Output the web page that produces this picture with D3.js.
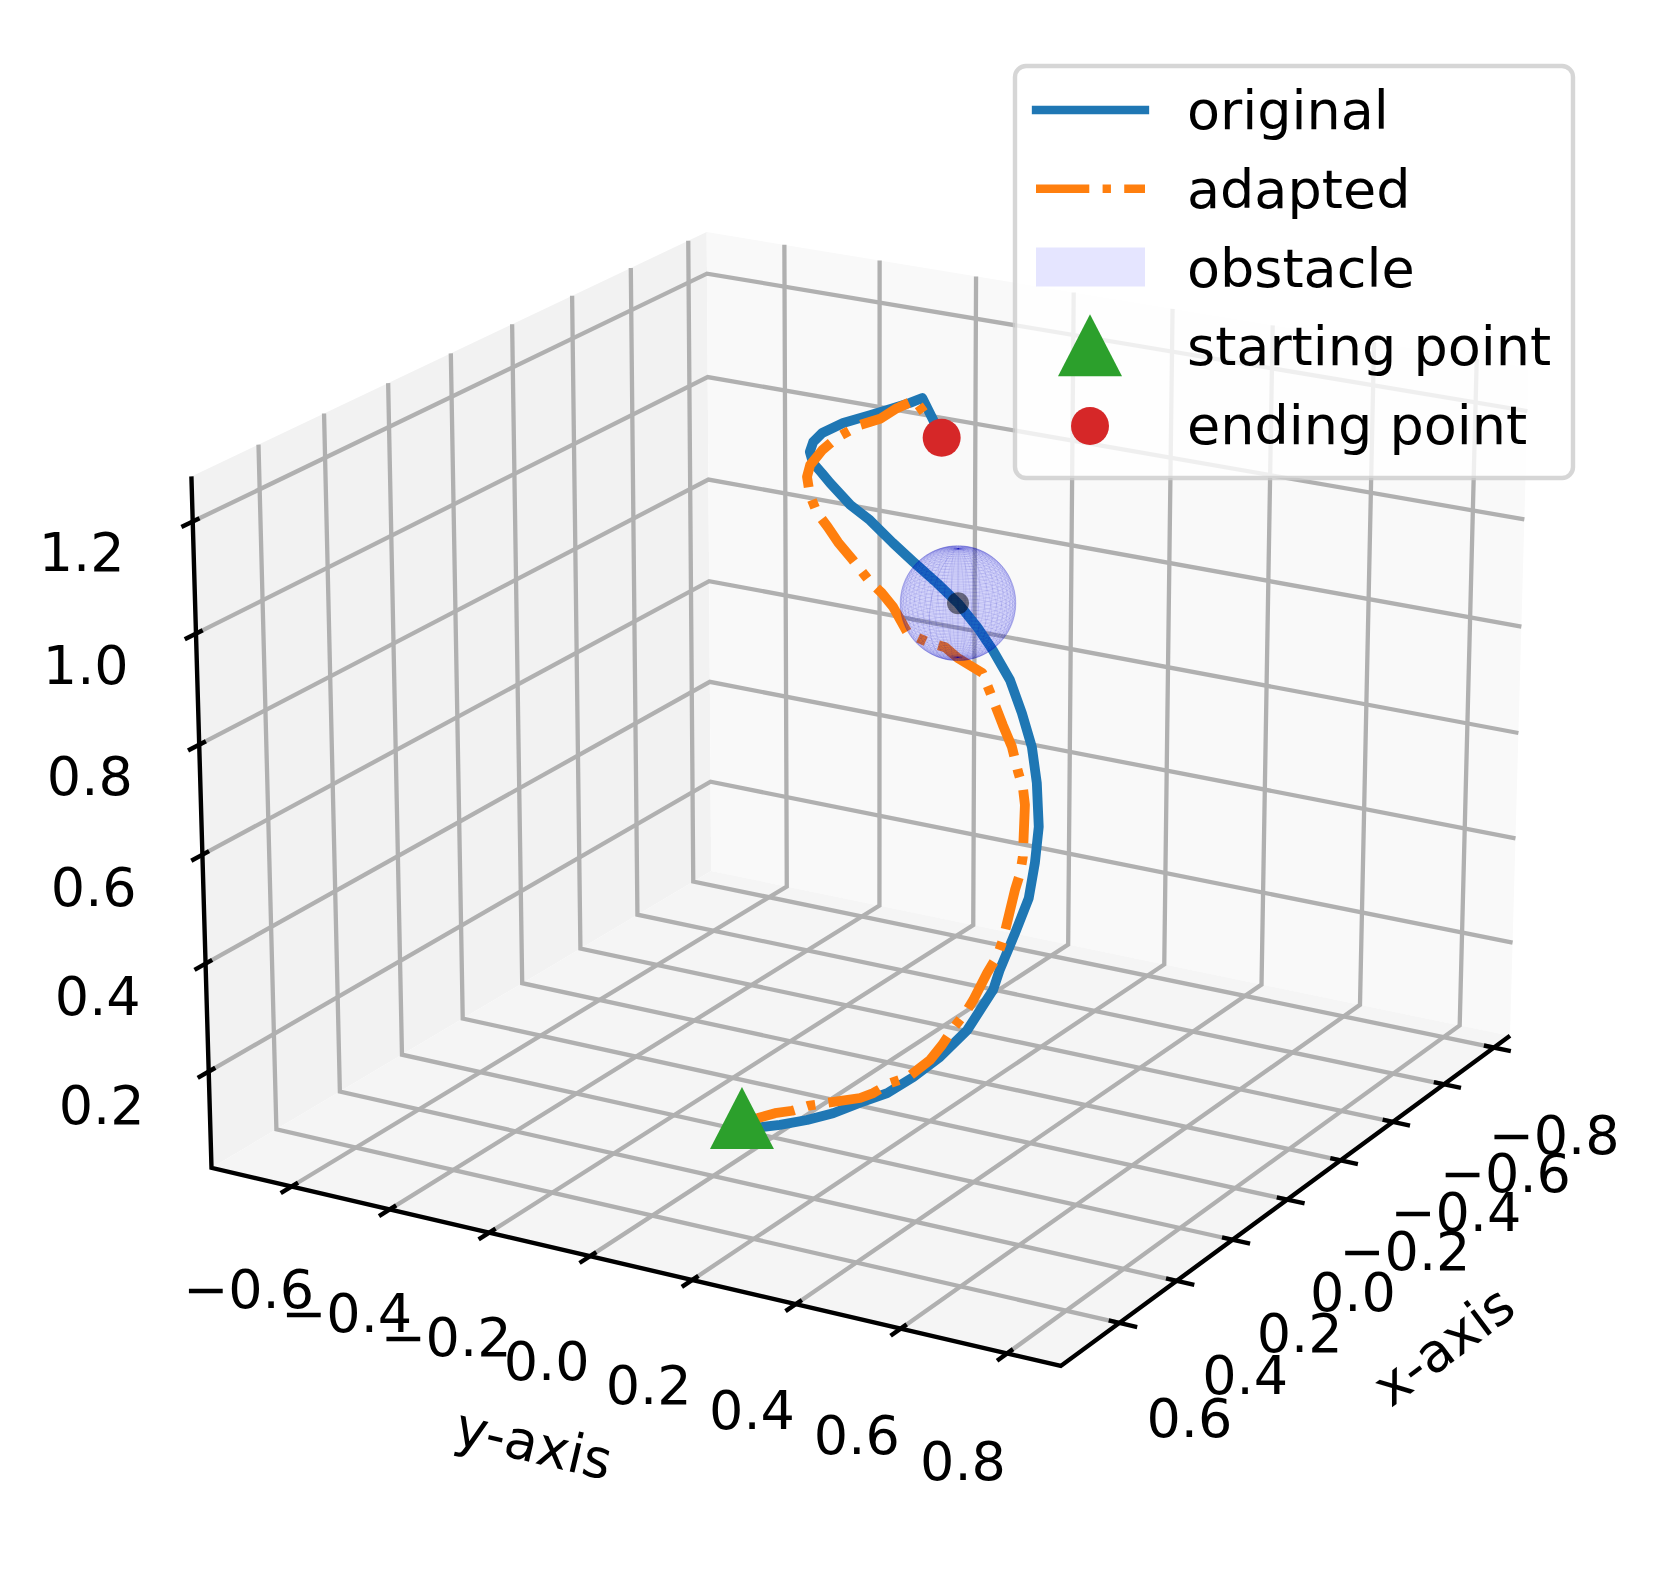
<!DOCTYPE html>
<html lang="en">
<head>
	<meta charset="UTF-8">
	<title>Trajectory</title>
	<script src="https://d3js.org/d3.v7.min.js"></script>
	<style>
		html, body { margin: 0; padding: 0; background: #fff; }
		text { font-family: "DejaVu Sans"; fill: #000; }
	</style>
</head>
<body>
	<svg id="svg"></svg>
	<script>
		var xTicks = [-0.8, -0.6, -0.4, -0.2, 0.0, 0.2, 0.4, 0.6];
		var yTicks = [-0.6, -0.4, -0.2, 0.0, 0.2, 0.4, 0.6, 0.8];
		var zTicks = [0.2, 0.4, 0.6, 0.8, 1.0, 1.2];
		var xLim = [-0.865, 0.80];
		var yLim = [-0.765, 0.90];
		var zLim = [0.02, 1.28];
		var legendLabels = ["original", "adapted", "obstacle", "starting point", "ending point"];

		var originalX = [0.267, 0.250, 0.232, 0.206, 0.180, 0.151, 0.123, 0.092, 0.059, 0.022, -0.021, -0.037, -0.069, -0.099, -0.122, -0.144,
			-0.165, -0.179, -0.188, -0.194, -0.195, -0.193, -0.189, -0.181, -0.171, -0.163, -0.155, -0.146, -0.140, -0.138, -0.135,
			-0.138, -0.146, -0.158, -0.182, -0.209, -0.229, -0.250, -0.263, -0.261, -0.259];
		var originalY = [-0.021, 0.005, 0.034, 0.073, 0.110, 0.147, 0.185, 0.219, 0.253, 0.286, 0.313, 0.317, 0.329, 0.339, 0.338, 0.333, 0.317,
			0.299, 0.274, 0.247, 0.212, 0.182, 0.146, 0.109, 0.067, 0.031, -0.010, -0.044, -0.081, -0.096, -0.112, -0.120, -0.118,
			-0.107, -0.079, -0.041, -0.013, 0.015, 0.032, 0.055, 0.073];
		var originalZ = [0.054, 0.058, 0.062, 0.070, 0.081, 0.098, 0.114, 0.140, 0.173, 0.217, 0.283, 0.316, 0.376, 0.433, 0.491, 0.550, 0.622,
			0.681, 0.736, 0.790, 0.839, 0.877, 0.916, 0.949, 0.984, 1.015, 1.052, 1.077, 1.113, 1.129, 1.146, 1.164, 1.180, 1.195, 1.211,
			1.224, 1.234, 1.244, 1.252, 1.216, 1.187];

		var adaptedX = [0.262, 0.247, 0.230, 0.214, 0.198, 0.180, 0.149, 0.135, 0.115, 0.097, 0.069, 0.051, 0.033, 0.015, 0.001, -0.025, -0.042,
			-0.055, -0.091, -0.104, -0.115, -0.143, -0.150, -0.154, -0.162, -0.165, -0.171, -0.174, -0.161, -0.155, -0.142, -0.130,
			-0.131, -0.128, -0.124, -0.120, -0.116, -0.115, -0.113, -0.116, -0.123, -0.132, -0.150, -0.169, -0.195, -0.216, -0.234,
			-0.255, -0.258, -0.259];
		var adaptedY = [-0.024, -0.001, 0.023, 0.048, 0.070, 0.098, 0.146, 0.164, 0.186, 0.211, 0.239, 0.253, 0.264, 0.278, 0.286, 0.299, 0.309,
			0.313, 0.316, 0.319, 0.318, 0.306, 0.298, 0.286, 0.269, 0.249, 0.220, 0.203, 0.162, 0.140, 0.111, 0.080, 0.050, 0.029, 0.008,
			-0.024, -0.051, -0.071, -0.091, -0.107, -0.117, -0.116, -0.102, -0.084, -0.053, -0.025, -0.005, 0.022, 0.056, 0.073];
		var adaptedZ = [0.070, 0.073, 0.081, 0.085, 0.093, 0.098, 0.106, 0.114, 0.130, 0.140, 0.168, 0.193, 0.219, 0.245, 0.266, 0.311, 0.338,
			0.365, 0.446, 0.474, 0.501, 0.586, 0.614, 0.640, 0.681, 0.717, 0.771, 0.802, 0.826, 0.844, 0.853, 0.867, 0.910, 0.933, 0.951,
			0.987, 1.016, 1.041, 1.064, 1.093, 1.123, 1.142, 1.167, 1.187, 1.208, 1.218, 1.234, 1.249, 1.208, 1.187];

		var obstacleCentre = [-0.189, 0.146, 0.916];
		var obstacleRadius = 0.1;
		var startPoint = [0.261, -0.025, 0.073];
		var endPoint = [-0.259, 0.073, 1.187];

		var W = 1658, H = 1572;
		var svg = d3.select("#svg").attr("width", W).attr("height", H).style("display", "block");

		// camera of the 3d view
		var elev = 20 * Math.PI / 180, azim = 30 * Math.PI / 180, dist = 10;
		var boxXY = 1.143, boxZ = 0.857;
		var xWorld = d3.scaleLinear().domain(xLim).range([-boxXY / 2, boxXY / 2]);
		var yWorld = d3.scaleLinear().domain(yLim).range([-boxXY / 2, boxXY / 2]);
		var zWorld = d3.scaleLinear().domain(zLim).range([-boxZ / 2, boxZ / 2]);

		var camW = [Math.cos(elev) * Math.cos(azim), Math.cos(elev) * Math.sin(azim), Math.sin(elev)];
		var camU = [-Math.sin(azim), Math.cos(azim), 0];
		var camV = [-Math.sin(elev) * Math.cos(azim), -Math.sin(elev) * Math.sin(azim), Math.cos(elev)];

		function dot(a, b) { return a[0] * b[0] + a[1] * b[1] + a[2] * b[2]; }

		function project(x, y, z) {
			var d = [xWorld(x), yWorld(y), zWorld(z)];
			var s = dist / (dist - dot(d, camW));
			return [dot(d, camU) * s, dot(d, camV) * s];
		}

		var sx = d3.scaleLinear()
			.domain([project(xLim[1], yLim[0], zLim[0])[0], project(xLim[0], yLim[1], zLim[0])[0]])
			.range([211.5, 1510]);
		var sy = d3.scaleLinear()
			.domain([project(xLim[1], yLim[1], zLim[0])[1], project(xLim[0], yLim[0], zLim[1])[1]])
			.range([1366, 232]);

		function px(p) {
			var q = project(p[0], p[1], p[2]);
			return [sx(q[0]), sy(q[1])];
		}
		var line3 = d3.line().x(function(p) { return px(p)[0]; }).y(function(p) { return px(p)[1]; });

		function pane(points, color) {
			svg.append("path").attr("d", line3(points) + "Z").attr("fill", color);
		}
		pane([[xLim[1], yLim[0], zLim[0]], [xLim[0], yLim[0], zLim[0]], [xLim[0], yLim[0], zLim[1]], [xLim[1], yLim[0], zLim[1]]], "#f2f2f2");
		pane([[xLim[0], yLim[0], zLim[0]], [xLim[0], yLim[1], zLim[0]], [xLim[0], yLim[1], zLim[1]], [xLim[0], yLim[0], zLim[1]]], "#f9f9f9");
		pane([[xLim[1], yLim[0], zLim[0]], [xLim[1], yLim[1], zLim[0]], [xLim[0], yLim[1], zLim[0]], [xLim[0], yLim[0], zLim[0]]], "#f5f5f5");

		var grid = svg.append("g").attr("fill", "none").attr("stroke", "#b0b0b0").attr("stroke-width", 4.3);
		xTicks.forEach(function(t) {
			grid.append("path").attr("d", line3([[t, yLim[1], zLim[0]], [t, yLim[0], zLim[0]], [t, yLim[0], zLim[1]]]));
		});
		yTicks.forEach(function(t) {
			grid.append("path").attr("d", line3([[xLim[1], t, zLim[0]], [xLim[0], t, zLim[0]], [xLim[0], t, zLim[1]]]));
		});
		zTicks.forEach(function(t) {
			grid.append("path").attr("d", line3([[xLim[1], yLim[0], t], [xLim[0], yLim[0], t], [xLim[0], yLim[1], t]]));
		});

		var axes = svg.append("g").attr("fill", "none").attr("stroke", "#000").attr("stroke-width", 4.4);
		axes.append("path").attr("d", line3([[xLim[1], yLim[0], zLim[1]], [xLim[1], yLim[0], zLim[0]], [xLim[1], yLim[1], zLim[0]], [xLim[0], yLim[1], zLim[0]]]));

		var xSpan = xLim[1] - xLim[0], ySpan = yLim[1] - yLim[0];
		var tickOut = 0.02, tickIn = 0.012;
		xTicks.forEach(function(t) {
			axes.append("path").attr("d", line3([[t, yLim[1] + ySpan * tickOut, zLim[0]], [t, yLim[1] - ySpan * tickIn, zLim[0]]]));
		});
		yTicks.forEach(function(t) {
			axes.append("path").attr("d", line3([[xLim[1] + xSpan * tickOut, t, zLim[0]], [xLim[1] - xSpan * tickIn, t, zLim[0]]]));
		});
		zTicks.forEach(function(t) {
			axes.append("path").attr("d", line3([[xLim[1] + xSpan * tickOut, yLim[0], t], [xLim[1] - xSpan * tickIn, yLim[0], t]]));
		});

		function tickLabel(p, text, dx, dy) {
			var q = px(p);
			svg.append("text").attr("x", q[0] + dx).attr("y", q[1] + dy).attr("dy", "0.36em")
				.attr("text-anchor", "middle").attr("font-size", 54).text(text);
		}
		function fmt(t) { return t.toFixed(1).replace("-", "\u2212"); }
		// label offsets grow a little towards the viewer
		var xDx = d3.scaleLinear().domain([-0.8, 0.6]).range([60, 70]);
		var xDy = d3.scaleLinear().domain([-0.8, 0.6]).range([87, 95]);
		var yDx = d3.scaleLinear().domain([-0.6, 0.8]).range([-43, -44]);
		var yDy = d3.scaleLinear().domain([-0.6, 0.8]).range([102, 107]);
		var zDx = d3.scaleLinear().domain([0.2, 1.2]).range([-107, -111]);
		var zDy = d3.scaleLinear().domain([0.2, 1.2]).range([33, 30]);
		xTicks.forEach(function(t) { tickLabel([t, yLim[1], zLim[0]], fmt(t), xDx(t), xDy(t)); });
		yTicks.forEach(function(t) { tickLabel([xLim[1], t, zLim[0]], fmt(t), yDx(t), yDy(t)); });
		zTicks.forEach(function(t) { tickLabel([xLim[1], yLim[0], t], fmt(t), zDx(t), zDy(t)); });

		svg.append("text").attr("font-size", 54).attr("text-anchor", "middle").attr("dy", "0.36em")
			.attr("transform", "translate(534,1443) rotate(13.2)").text("y-axis");
		svg.append("text").attr("font-size", 54).attr("text-anchor", "middle").attr("dy", "0.36em")
			.attr("transform", "translate(1443,1345) rotate(-36.7)").text("x-axis");

		var lines = svg.append("g").attr("fill", "none").attr("stroke-width", 9.8).attr("stroke-linejoin", "round");
		lines.append("path").attr("d", line3(d3.zip(originalX, originalY, originalZ)))
			.attr("stroke", "#1f77b4").attr("stroke-linecap", "square");
		lines.append("path").attr("d", line3(d3.zip(adaptedX, adaptedY, adaptedZ)))
			.attr("stroke", "#ff7f0e").attr("stroke-dasharray", "53.3 13.3 8.33 13.3");

		// sphere surface, meridians and parallels
		var ang = d3.range(0, 51).map(function(i) { return i / 50 * 2 * Math.PI; });
		var lat = d3.range(0, 51).map(function(i) { return -Math.PI / 2 + i / 50 * Math.PI; });
		function spherePoint(th, ph) {
			return [obstacleCentre[0] + obstacleRadius * Math.cos(ph) * Math.cos(th),
				obstacleCentre[1] + obstacleRadius * Math.cos(ph) * Math.sin(th),
				obstacleCentre[2] + obstacleRadius * Math.sin(ph)];
		}
		var shellPts = [];
		var sphere = svg.append("g");
		var mesh = sphere.append("g").attr("fill", "none").attr("stroke", "#0000b0").attr("stroke-opacity", 0.09).attr("stroke-width", 0.9);
		ang.forEach(function(th) {
			var m = lat.map(function(ph) { return spherePoint(th, ph); });
			shellPts = shellPts.concat(m.map(px));
			mesh.append("path").attr("d", line3(m));
		});
		lat.forEach(function(ph) {
			mesh.append("path").attr("d", line3(ang.map(function(th) { return spherePoint(th, ph); })));
		});
		sphere.insert("path", "g").attr("d", "M" + d3.polygonHull(shellPts).join("L") + "Z").attr("fill", "#0000ff").attr("fill-opacity", 0.15);

		var c = px(obstacleCentre);
		svg.append("circle").attr("cx", c[0]).attr("cy", c[1]).attr("r", 11).attr("fill", "#000").attr("fill-opacity", 0.5);

		var triangle = d3.symbol().type({ draw: function(ctx) {
			ctx.moveTo(0, -31); ctx.lineTo(32, 31); ctx.lineTo(-32, 31); ctx.closePath();
		} });
		var s = px(startPoint), e = px(endPoint);
		svg.append("path").attr("d", triangle()).attr("fill", "#2ca02c").attr("transform", "translate(" + s[0] + "," + s[1] + ")");
		svg.append("circle").attr("cx", e[0]).attr("cy", e[1]).attr("r", 19).attr("fill", "#d62728");

		// legend
		var lg = svg.append("g");
		lg.append("rect").attr("x", 1015).attr("y", 66).attr("width", 558).attr("height", 412).attr("rx", 11)
			.attr("fill", "#fff").attr("fill-opacity", 0.8).attr("stroke", "#ccc").attr("stroke-width", 4.4).attr("stroke-opacity", 0.8);
		var rowY = d3.scaleLinear().domain([0, 4]).range([129, 444]);
		legendLabels.forEach(function(t, i) {
			lg.append("text").attr("x", 1187).attr("y", rowY(i)).attr("font-size", 54).text(t);
		});
		lg.append("line").attr("x1", 1036).attr("x2", 1145).attr("y1", rowY(0) - 19).attr("y2", rowY(0) - 19)
			.attr("stroke", "#1f77b4").attr("stroke-width", 8.33).attr("stroke-linecap", "square");
		lg.append("line").attr("x1", 1036).attr("x2", 1145).attr("y1", rowY(1) - 19).attr("y2", rowY(1) - 19)
			.attr("stroke", "#ff7f0e").attr("stroke-width", 8.33).attr("stroke-dasharray", "53.3 13.3 8.33 13.3");
		lg.append("rect").attr("x", 1036).attr("width", 109).attr("y", rowY(2) - 39).attr("height", 39)
			.attr("fill", "#0000ff").attr("fill-opacity", 0.1);
		lg.append("path").attr("d", triangle()).attr("fill", "#2ca02c").attr("transform", "translate(1090," + (rowY(3) - 20) + ")");
		lg.append("circle").attr("cx", 1090).attr("cy", rowY(4) - 18).attr("r", 19).attr("fill", "#d62728");
	</script>
</body>
</html>
